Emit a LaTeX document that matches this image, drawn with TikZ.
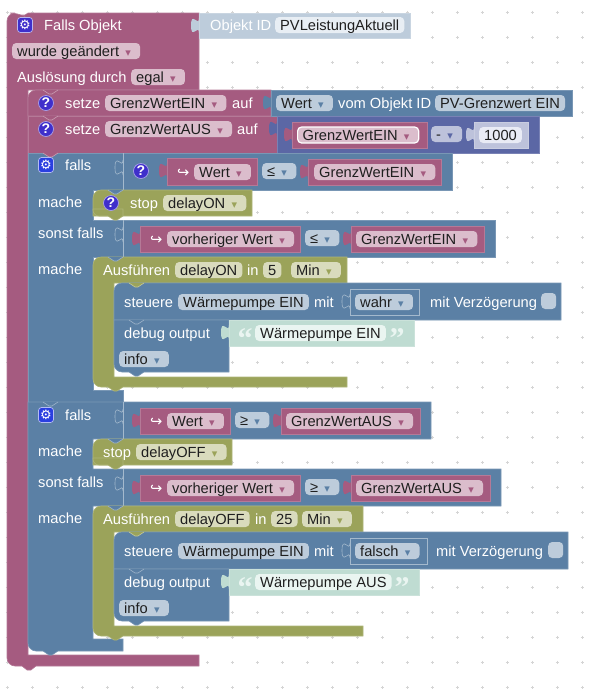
\documentclass[tikz,border=0pt]{standalone}
\usepackage{fontspec}
\setmainfont{Liberation Sans}
\newfontfamily\symfont{DejaVu Sans}
\newfontfamily\quotefont{Liberation Serif}
\definecolor{mauve}{HTML}{A55B80}
\definecolor{mauvel}{HTML}{DBBDCC}
\definecolor{steel}{HTML}{5B80A5}
\definecolor{steell}{HTML}{BDCCDB}
\definecolor{steelp}{HTML}{E8EEF4}
\definecolor{moss}{HTML}{9BA35A}
\definecolor{mossl}{HTML}{D9DBBD}
\definecolor{indig}{HTML}{5B67A5}
\definecolor{indigl}{HTML}{BDC2DB}
\definecolor{indigp}{HTML}{E9EBF5}
\definecolor{mint}{HTML}{BFDCD2}
\definecolor{mintp}{HTML}{EAF5F1}
\definecolor{dotc}{HTML}{D5D5D5}
\definecolor{iconm}{HTML}{3F2FCB}
\definecolor{iconb}{HTML}{2A3FE0}
\newcommand{\arr}[1]{\hspace{2pt}\makebox[14pt][c]{\symfont\fontsize{11}{11}\selectfont\textcolor{#1}{▾}}}
\usetikzlibrary{arrows.meta, positioning, calc}
\tikzset{
    ptab/.pic={\path[pic actions] (0,0) .. controls (0,10) and (-8,-8) .. (-8,7.5) .. controls (-8,23) and (0,5) .. (0,15);},
    notch/.pic={\path[pic actions] (15,0) -- (21,4) -- (24,4) -- (30,0);}
}
\begin{document}
\begin{tikzpicture}[
    x=1pt, y=-1pt,
    every node/.style={font=\fontsize{14.67}{17}\selectfont},
    blk/.style={fill=#1, draw=#1!82!white, line width=0.6pt},
    lbl/.style={anchor=west, inner sep=0pt, text=white, text height=13.25pt, text depth=2.75pt},
    fld/.style={anchor=west, fill=#1, inner xsep=5pt, inner ysep=0pt, rounded corners=4pt, text=black!88, text height=13.25pt, text depth=2.75pt},
    gearicon/.style={fill=#1, draw=white!65!#1, line width=0.7pt, rounded corners=3pt, minimum size=15pt, inner sep=0pt, text=white},
    helpicon/.style={circle, fill=iconm, draw=white!55!iconm, line width=0.7pt, minimum size=15pt, inner sep=0pt, text=white, font=\fontsize{14}{14}\selectfont\bfseries},
    slot/.style={draw=steell!75!steel, line width=0.6pt},
    quotes/.style={inner sep=0pt, text=mintp, font=\fontsize{30}{30}\selectfont\quotefont\bfseries}
]
    \useasboundingbox (0,0) rectangle (598,689);
    % Grid
    \foreach \gx in {7,32,...,582} {
        \foreach \gy in {12,37,...,687} {
            \draw[dotc, line width=0.7pt] (\gx-1.5,\gy) -- (\gx+1.5,\gy) (\gx,\gy-1.5) -- (\gx,\gy+1.5);
        }
    }

    % Trigger block
    \draw[blk=mauve] (7,40) [rounded corners=8pt] -- (7,13) -- (18,13) [sharp corners] -- (22,15) -- (25,15) -- (28,13) -- (199,13) -- (199,90) -- (28,90) -- (28,655) -- (199,655) -- (199,666) -- (36,666) -- (31,670) -- (27,670) -- (22,666) [rounded corners=8pt] -- (7,666) -- cycle;
    \pic[fill=steell] at (199,18) {ptab};
    \draw[blk=steell] (199,13) rectangle (410,38);
    \node[gearicon=iconm] (gearMain) at (25,25) {\symfont\fontsize{13}{13}\selectfont ⚙};
    \node[lbl] (fallsObjekt) at (44,25) {Falls Objekt};
    \node[lbl] (objektId) at (210,25) {Objekt ID};
    \node[fld=steelp] (pvLeistung) at (275,25) {PVLeistungAktuell};
    \node[fld=mauvel] (geaendert) at (12,51) {wurde geändert\arr{mauve}};
    \node[lbl] (ausloesung) at (17,77) {Auslösung durch};
    \node[fld=mauvel] (egal) at (131,77) {egal\arr{mauve}};

    % Set blocks
    \draw[blk=mauve] (28,116) [rounded corners=8pt] -- (28,90) [sharp corners] -- (271,90) -- (271,116) -- cycle;
    \draw[blk=mauve] (28,116) rectangle (277,153);
    \pic[fill=mauve, draw=mauve!60!white, line width=0.6pt] at (28,90) {notch};
    \pic[fill=mauve, draw=mauve!60!white, line width=0.6pt] at (28,116) {notch};
    \pic[fill=steel] at (271,95) {ptab};
    \draw[blk=steel] (271,90) rectangle (572,116);
    \node[helpicon] (helpEin) at (46,103) {?};
    \node[lbl] (setzeEin) at (65,103) {setze};
    \node[fld=mauvel] (varEin) at (105,103) {GrenzWertEIN\arr{mauve}};
    \node[lbl] (aufEin) at (232,103) {auf};
    \node[fld=steell] (wertField) at (276,103) {Wert\arr{steel}};
    \node[lbl] (vomObjekt) at (338,103) {vom Objekt ID};
    \node[fld=steell] (pvGrenz) at (435,103) {PV-Grenzwert EIN};
    \node[helpicon] (helpAus) at (46,129) {?};
    \node[lbl] (setzeAus) at (65,129) {setze};
    \node[fld=mauvel] (varAus) at (105,129) {GrenzWertAUS\arr{mauve}};
    \node[lbl] (aufAus) at (237,129) {auf};
    \pic[fill=indig] at (277,121) {ptab};
    \draw[blk=indig] (277,116) rectangle (539,153);
    \pic[fill=mauve] at (292,127) {ptab};
    \draw[blk=mauve] (292,122) rectangle (427,148);
    \node[fld=mauvel, draw=white, line width=1.2pt] (varSel) at (297,135) {GrenzWertEIN\arr{mauve}};
    \node[fld=indigl] (minusOp) at (431,134) {-\arr{indig}};
    \pic[fill=indigl] at (474,127) {ptab};
    \draw[blk=indigl] (474,122) rectangle (528,148);
    \node[fld=indigp] (numField) at (479,135) {1000};

    % First condition block
    \draw[blk=steel] (28,153) -- (452,153) -- (452,190) -- (93,190) -- (93,220) -- (495,220) -- (495,257) -- (93,257) -- (93,390) -- (123,390) -- (123,402) -- (28,402) -- cycle;
    \pic[fill=mauve, draw=mauve!60!white, line width=0.6pt] at (28,153) {notch};
    \draw[slot] (123,153) -- (123,190) (123,220) -- (123,257);
    \pic[slot] at (123,160) {ptab};
    \pic[slot] at (123,227) {ptab};
    \node[gearicon=iconb] (gearIf) at (46,165) {\symfont\fontsize{13}{13}\selectfont ⚙};
    \node[lbl] (fallsEin) at (65,165) {falls};
    \node[helpicon] (helpCmp) at (141,171) {?};
    \pic[fill=mauve] at (167,163) {ptab};
    \draw[blk=mauve] (167,158) rectangle (257,185);
    \node[lbl] (hookWert) at (177,172) {\symfont ↪};
    \node[fld=mauvel] (wertEin) at (194,172) {Wert\arr{mauve}};
    \node[fld=steell] (leEin) at (262,171) {≤\arr{steel}};
    \pic[fill=mauve] at (308,164) {ptab};
    \draw[blk=mauve] (308,159) rectangle (441,185);
    \node[fld=mauvel] (grenzEin) at (314,172) {GrenzWertEIN\arr{mauve}};
    \node[lbl] (macheStop) at (38,202) {mache};
    \draw[blk=moss] (93,216) [rounded corners=8pt] -- (93,190) [sharp corners] -- (252,190) -- (252,216) -- cycle;
    \draw[blk=moss] (93,209) [rounded corners=6pt] -- (93,216) [sharp corners] -- (108,216) -- (114,220) -- (117,220) -- (123,216) -- (123,209) -- cycle;
    \pic[fill=steel, draw=steel!60!white, line width=0.6pt] at (93,190) {notch};
    \node[helpicon] (helpStop) at (111,203) {?};
    \node[lbl] (stopOn) at (130,203) {stop};
    \node[fld=mossl] (delayStopOn) at (163,203) {delayON\arr{moss}};
    \node[lbl] (sonstEin) at (38,233) {sonst falls};
    \pic[fill=mauve] at (140,231) {ptab};
    \draw[blk=mauve] (140,226) rectangle (300,252);
    \node[lbl] (hookVor) at (150,239) {\symfont ↪};
    \node[fld=mauvel] (vorEin) at (167,239) {vorheriger Wert\arr{mauve}};
    \node[fld=steell] (leVor) at (305,238) {≤\arr{steel}};
    \pic[fill=mauve] at (351,231) {ptab};
    \draw[blk=mauve] (351,226) rectangle (484,252);
    \node[fld=mauvel] (grenzVor) at (356,239) {GrenzWertEIN\arr{mauve}};
    \node[lbl] (macheEin) at (38,269) {mache};

    % Timer with its two statements
    \draw[blk=moss] (93,300) [rounded corners=8pt] -- (93,257) [sharp corners] -- (347,257) -- (347,283) -- (114,283) -- (114,377) -- (347,377) -- (347,387) -- (123,387) -- (117,391) -- (114,391) -- (108,387) [rounded corners=8pt] -- (93,387) -- cycle;
    \pic[fill=steel, draw=steel!60!white, line width=0.6pt] at (93,257) {notch};
    \node[lbl] (ausfEin) at (103,270) {Ausführen};
    \node[fld=mossl] (delayOn) at (175,270) {delayON};
    \node[lbl] (inEin) at (247,270) {in};
    \node[fld=mossl] (timeFive) at (263,270) {5};
    \node[fld=mossl] (minEin) at (291,270) {Min\arr{moss}};
    \draw[blk=steel] (114,320) [rounded corners=8pt] -- (114,283) [sharp corners] -- (561,283) -- (561,320) -- cycle;
    \pic[fill=moss, draw=moss!60!white, line width=0.6pt] at (114,283) {notch};
    \node[lbl] (steuereEin) at (124,302) {steuere};
    \node[fld=steell] (pumpeEin) at (178,302) {Wärmepumpe EIN};
    \node[lbl] (mitEin) at (314,302) {mit};
    \pic[slot, fill=steel] at (350,294) {ptab};
    \draw[slot] (350,289) rectangle (419,315);
    \node[fld=steell] (wahrField) at (355,302) {wahr\arr{steel}};
    \node[lbl] (verzEin) at (430,302) {mit Verzögerung};
    \node[fld=steell, minimum width=15pt, minimum height=16pt, inner sep=0pt] (chkEin) at (541,301) {};
    \draw[blk=steel] (114,340) -- (114,320) -- (229,320) -- (229,372) -- (144,372) -- (138,376) -- (135,376) -- (129,372) [rounded corners=8pt] -- (114,372) -- cycle;
    \pic[fill=steel, draw=steel!60!white, line width=0.6pt] at (114,320) {notch};
    \node[lbl] (debugEin) at (124,333) {debug output};
    \pic[fill=mint] at (229,325) {ptab};
    \draw[blk=mint] (229,320) rectangle (414,346);
    \node[quotes] (quoteA) at (245,339) {“};
    \node[fld=mintp] (textEin) at (255,333) {Wärmepumpe EIN};
    \node[quotes] (quoteB) at (397,339) {”};
    \node[fld=steell] (infoEin) at (119,359) {info\arr{steel}};

    % Second condition block
    \draw[blk=steel] (28,402) -- (431,402) -- (431,439) -- (93,439) -- (93,469) -- (501,469) -- (501,506) -- (93,506) -- (93,639) -- (123,639) -- (123,651) -- (58,651) -- (52,655) -- (49,655) -- (43,651) [rounded corners=8pt] -- (28,651) -- (28,620) [sharp corners] -- cycle;
    \pic[fill=steel, draw=steel!60!white, line width=0.6pt] at (28,402) {notch};
    \draw[slot] (123,402) -- (123,439) (123,469) -- (123,506);
    \pic[slot] at (123,409) {ptab};
    \pic[slot] at (123,476) {ptab};
    \node[gearicon=iconb] (gearAus) at (46,415) {\symfont\fontsize{13}{13}\selectfont ⚙};
    \node[lbl] (fallsAus) at (65,415) {falls};
    \pic[fill=mauve] at (140,413) {ptab};
    \draw[blk=mauve] (140,408) rectangle (230,434);
    \node[lbl] (hookWertAus) at (150,421) {\symfont ↪};
    \node[fld=mauvel] (wertAus) at (167,421) {Wert\arr{mauve}};
    \node[fld=steell] (geAus) at (235,420) {≥\arr{steel}};
    \pic[fill=mauve] at (281,413) {ptab};
    \draw[blk=mauve] (281,408) rectangle (420,434);
    \node[fld=mauvel] (grenzAus) at (286,421) {GrenzWertAUS\arr{mauve}};
    \node[lbl] (macheOff) at (38,451) {mache};
    \draw[blk=moss] (93,465) [rounded corners=8pt] -- (93,439) [sharp corners] -- (232,439) -- (232,465) -- cycle;
    \draw[blk=moss] (93,458) [rounded corners=6pt] -- (93,465) [sharp corners] -- (108,465) -- (114,469) -- (117,469) -- (123,465) -- (123,458) -- cycle;
    \pic[fill=steel, draw=steel!60!white, line width=0.6pt] at (93,439) {notch};
    \node[lbl] (stopOff) at (103,452) {stop};
    \node[fld=mossl] (delayStopOff) at (136,452) {delayOFF\arr{moss}};
    \node[lbl] (sonstAus) at (38,482) {sonst falls};
    \pic[fill=mauve] at (140,480) {ptab};
    \draw[blk=mauve] (140,475) rectangle (300,501);
    \node[lbl] (hookVorAus) at (150,488) {\symfont ↪};
    \node[fld=mauvel] (vorAus) at (167,488) {vorheriger Wert\arr{mauve}};
    \node[fld=steell] (geVor) at (305,487) {≥\arr{steel}};
    \pic[fill=mauve] at (351,480) {ptab};
    \draw[blk=mauve] (351,475) rectangle (490,501);
    \node[fld=mauvel] (grenzVorAus) at (356,488) {GrenzWertAUS\arr{mauve}};
    \node[lbl] (macheAus) at (38,518) {mache};

    % Second timer
    \draw[blk=moss] (93,550) [rounded corners=8pt] -- (93,506) [sharp corners] -- (363,506) -- (363,532) -- (114,532) -- (114,626) -- (363,626) -- (363,636) -- (123,636) -- (117,640) -- (114,640) -- (108,636) [rounded corners=8pt] -- (93,636) -- cycle;
    \pic[fill=steel, draw=steel!60!white, line width=0.6pt] at (93,506) {notch};
    \node[lbl] (ausfAus) at (103,519) {Ausführen};
    \node[fld=mossl] (delayOff) at (175,519) {delayOFF};
    \node[lbl] (inAus) at (255,519) {in};
    \node[fld=mossl] (timeTwenty) at (271,519) {25};
    \node[fld=mossl] (minAus) at (302,519) {Min\arr{moss}};
    \draw[blk=steel] (114,569) [rounded corners=8pt] -- (114,532) [sharp corners] -- (568,532) -- (568,569) -- cycle;
    \pic[fill=moss, draw=moss!60!white, line width=0.6pt] at (114,532) {notch};
    \node[lbl] (steuereAus) at (124,551) {steuere};
    \node[fld=steell] (pumpeAus) at (178,551) {Wärmepumpe EIN};
    \node[lbl] (mitAus) at (314,551) {mit};
    \pic[slot, fill=steel] at (350,543) {ptab};
    \draw[slot] (350,538) rectangle (427,564);
    \node[fld=steell] (falschField) at (355,551) {falsch\arr{steel}};
    \node[lbl] (verzAus) at (436,551) {mit Verzögerung};
    \node[fld=steell, minimum width=15pt, minimum height=16pt, inner sep=0pt] (chkAus) at (548,550) {};
    \draw[blk=steel] (114,590) -- (114,569) -- (229,569) -- (229,621) -- (144,621) -- (138,625) -- (135,625) -- (129,621) [rounded corners=8pt] -- (114,621) -- cycle;
    \pic[fill=steel, draw=steel!60!white, line width=0.6pt] at (114,569) {notch};
    \node[lbl] (debugAus) at (124,582) {debug output};
    \pic[fill=mint] at (229,574) {ptab};
    \draw[blk=mint] (229,569) rectangle (419,595);
    \node[quotes] (quoteC) at (245,588) {“};
    \node[fld=mintp] (textAus) at (255,582) {Wärmepumpe AUS};
    \node[quotes] (quoteD) at (402,588) {”};
    \node[fld=steell] (infoAus) at (119,608) {info\arr{steel}};
\end{tikzpicture}
\end{document}
